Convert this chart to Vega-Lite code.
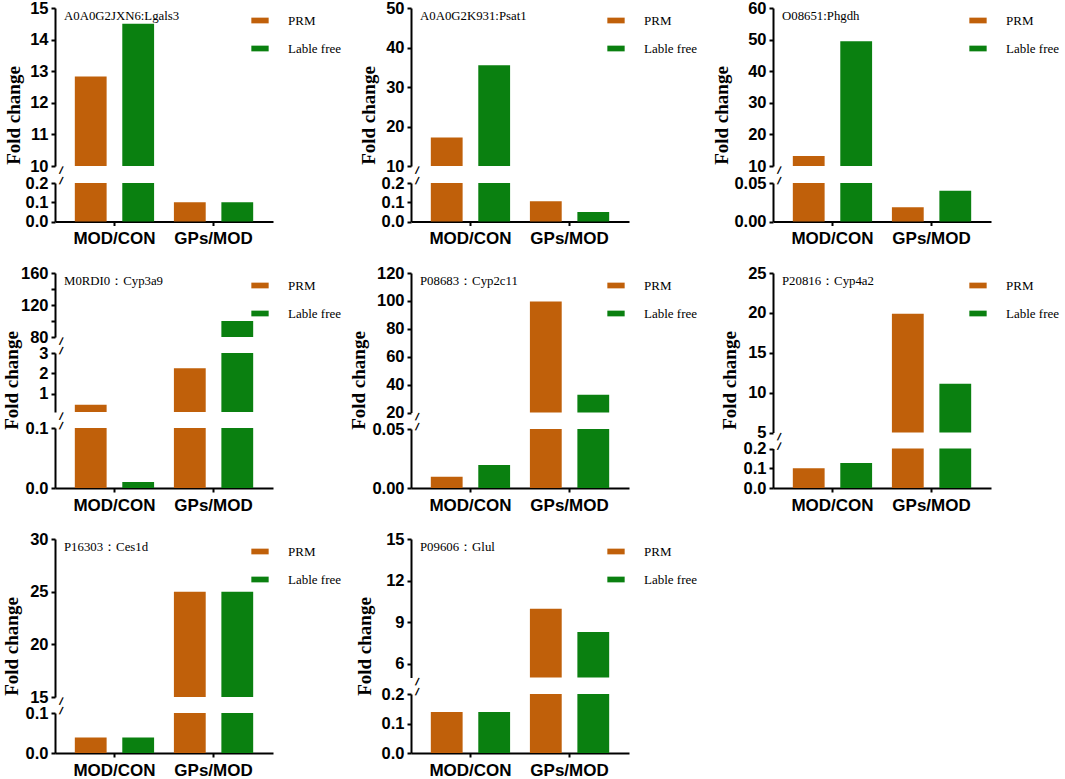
{
  "$schema": "https://vega.github.io/schema/vega-lite/v6.json",
  "padding": {"left": 2, "top": 0, "right": 0, "bottom": 0},
  "background": "white",
  "data": {
    "values": [
      {"panel": "P1", "group": "MOD/CON", "method": "PRM", "value": 12.83},
      {"panel": "P1", "group": "MOD/CON", "method": "Lable free", "value": 14.5},
      {"panel": "P1", "group": "GPs/MOD", "method": "PRM", "value": 0.1},
      {"panel": "P1", "group": "GPs/MOD", "method": "Lable free", "value": 0.1},
      {"panel": "P2", "group": "MOD/CON", "method": "PRM", "value": 17.2},
      {"panel": "P2", "group": "MOD/CON", "method": "Lable free", "value": 35.5},
      {"panel": "P2", "group": "GPs/MOD", "method": "PRM", "value": 0.105},
      {"panel": "P2", "group": "GPs/MOD", "method": "Lable free", "value": 0.05},
      {"panel": "P3", "group": "MOD/CON", "method": "PRM", "value": 13.2},
      {"panel": "P3", "group": "MOD/CON", "method": "Lable free", "value": 49.5},
      {"panel": "P3", "group": "GPs/MOD", "method": "PRM", "value": 0.0185},
      {"panel": "P3", "group": "GPs/MOD", "method": "Lable free", "value": 0.04},
      {"panel": "P4", "group": "MOD/CON", "method": "PRM", "value": 0.46},
      {"panel": "P4", "group": "MOD/CON", "method": "Lable free", "value": 0.01},
      {"panel": "P4", "group": "GPs/MOD", "method": "PRM", "value": 2.25},
      {"panel": "P4", "group": "GPs/MOD", "method": "Lable free", "value": 100},
      {"panel": "P5", "group": "MOD/CON", "method": "PRM", "value": 0.0095},
      {"panel": "P5", "group": "MOD/CON", "method": "Lable free", "value": 0.0195},
      {"panel": "P5", "group": "GPs/MOD", "method": "PRM", "value": 99.5},
      {"panel": "P5", "group": "GPs/MOD", "method": "Lable free", "value": 32.7},
      {"panel": "P6", "group": "MOD/CON", "method": "PRM", "value": 0.1},
      {"panel": "P6", "group": "MOD/CON", "method": "Lable free", "value": 0.126},
      {"panel": "P6", "group": "GPs/MOD", "method": "PRM", "value": 19.9},
      {"panel": "P6", "group": "GPs/MOD", "method": "Lable free", "value": 11.1},
      {"panel": "P7", "group": "MOD/CON", "method": "PRM", "value": 0.039},
      {"panel": "P7", "group": "MOD/CON", "method": "Lable free", "value": 0.039},
      {"panel": "P7", "group": "GPs/MOD", "method": "PRM", "value": 25},
      {"panel": "P7", "group": "GPs/MOD", "method": "Lable free", "value": 25},
      {"panel": "P8", "group": "MOD/CON", "method": "PRM", "value": 0.139},
      {"panel": "P8", "group": "MOD/CON", "method": "Lable free", "value": 0.139},
      {"panel": "P8", "group": "GPs/MOD", "method": "PRM", "value": 9.96},
      {"panel": "P8", "group": "GPs/MOD", "method": "Lable free", "value": 8.28}
    ]
  },
  "columns": 3,
  "spacing": {"row": 51, "column": 0},
  "bounds": "flush",
  "resolve": {"legend": {"color": "independent"}},
  "concat": [
    {
      "width": 355.5, "height": 213.5,
      "title": {"text": "A0A0G2JXN6:Lgals3"},
      "transform": [{"filter": "datum.panel == 'P1'"}],
      "resolve": {"scale": {"y": "independent"}, "axis": {"y": "independent"}},
      "layer": [
        {"mark": "bar", "encoding": {
          "x": {"field": "group", "type": "nominal", "scale": {"domain": ["MOD/CON", "GPs/MOD"], "range": [0, 218]}, "axis": {"title": null}},
          "xOffset": {"field": "method", "scale": {"domain": ["PRM", "Lable free"]}},
          "color": {"field": "method", "title": null, "scale": {"domain": ["PRM", "Lable free"]}},
          "y": {"field": "value", "type": "quantitative", "scale": {"domain": [10, 15], "range": [158, 0], "clamp": true, "nice": false, "zero": false}, "axis": {"orient": "left", "values": [10, 11, 12, 13, 14, 15], "title": "Fold change", "titleX": -32, "titleY": 107}},
          "y2": {"datum": 0}}},
        {"mark": "bar", "encoding": {
          "x": {"field": "group", "type": "nominal", "scale": {"domain": ["MOD/CON", "GPs/MOD"], "range": [0, 218]}, "axis": {"title": null}},
          "xOffset": {"field": "method", "scale": {"domain": ["PRM", "Lable free"]}},
          "color": {"field": "method", "title": null, "scale": {"domain": ["PRM", "Lable free"]}},
          "y": {"field": "value", "type": "quantitative", "scale": {"domain": [0, 0.2], "range": [213.5, 175], "clamp": true, "nice": false}, "axis": {"orient": "left", "values": [0, 0.1, 0.2], "format": ".1f", "title": null}},
          "y2": {"datum": 0}}},
        {"transform": [{"aggregate": [{"op": "count", "as": "n"}]}], "mark": {"type": "text", "dx": -50.4, "dy": 18.7}, "encoding": {
          "x": {"datum": "MOD/CON", "type": "nominal", "scale": {"domain": ["MOD/CON", "GPs/MOD"], "range": [0, 218]}, "axis": {"title": null}},
          "y": {"datum": 10, "type": "quantitative", "scale": {"domain": [10, 15], "range": [158, 0], "nice": false, "zero": false}, "axis": null}}},
        {"transform": [{"aggregate": [{"op": "count", "as": "n"}]}], "mark": {"type": "text", "dx": -52.1, "dy": 12.4}, "encoding": {
          "x": {"datum": "MOD/CON", "type": "nominal", "scale": {"domain": ["MOD/CON", "GPs/MOD"], "range": [0, 218]}, "axis": {"title": null}},
          "y": {"datum": 0.2, "type": "quantitative", "scale": {"domain": [0, 0.2], "range": [213.5, 175], "nice": false}, "axis": null}}}
      ]
    },
    {
      "width": 361.5, "height": 213.5,
      "title": {"text": "A0A0G2K931:Psat1"},
      "transform": [{"filter": "datum.panel == 'P2'"}],
      "resolve": {"scale": {"y": "independent"}, "axis": {"y": "independent"}},
      "layer": [
        {"mark": "bar", "encoding": {
          "x": {"field": "group", "type": "nominal", "scale": {"domain": ["MOD/CON", "GPs/MOD"], "range": [0, 218]}, "axis": {"title": null}},
          "xOffset": {"field": "method", "scale": {"domain": ["PRM", "Lable free"]}},
          "color": {"field": "method", "title": null, "scale": {"domain": ["PRM", "Lable free"]}},
          "y": {"field": "value", "type": "quantitative", "scale": {"domain": [10, 50], "range": [158, 0], "clamp": true, "nice": false, "zero": false}, "axis": {"orient": "left", "values": [10, 20, 30, 40, 50], "title": "Fold change", "titleX": -33, "titleY": 107}},
          "y2": {"datum": 0}}},
        {"mark": "bar", "encoding": {
          "x": {"field": "group", "type": "nominal", "scale": {"domain": ["MOD/CON", "GPs/MOD"], "range": [0, 218]}, "axis": {"title": null}},
          "xOffset": {"field": "method", "scale": {"domain": ["PRM", "Lable free"]}},
          "color": {"field": "method", "title": null, "scale": {"domain": ["PRM", "Lable free"]}},
          "y": {"field": "value", "type": "quantitative", "scale": {"domain": [0, 0.2], "range": [213.5, 175], "clamp": true, "nice": false}, "axis": {"orient": "left", "values": [0, 0.1, 0.2], "format": ".1f", "title": null}},
          "y2": {"datum": 0}}},
        {"transform": [{"aggregate": [{"op": "count", "as": "n"}]}], "mark": {"type": "text", "dx": -50.4, "dy": 18.7}, "encoding": {
          "x": {"datum": "MOD/CON", "type": "nominal", "scale": {"domain": ["MOD/CON", "GPs/MOD"], "range": [0, 218]}, "axis": {"title": null}},
          "y": {"datum": 10, "type": "quantitative", "scale": {"domain": [10, 50], "range": [158, 0], "nice": false, "zero": false}, "axis": null}}},
        {"transform": [{"aggregate": [{"op": "count", "as": "n"}]}], "mark": {"type": "text", "dx": -52.1, "dy": 12.4}, "encoding": {
          "x": {"datum": "MOD/CON", "type": "nominal", "scale": {"domain": ["MOD/CON", "GPs/MOD"], "range": [0, 218]}, "axis": {"title": null}},
          "y": {"datum": 0.2, "type": "quantitative", "scale": {"domain": [0, 0.2], "range": [213.5, 175], "nice": false}, "axis": null}}}
      ]
    },
    {
      "width": 218, "height": 213.5,
      "title": {"text": "O08651:Phgdh"},
      "transform": [{"filter": "datum.panel == 'P3'"}],
      "resolve": {"scale": {"y": "independent"}, "axis": {"y": "independent"}},
      "layer": [
        {"mark": "bar", "encoding": {
          "x": {"field": "group", "type": "nominal", "scale": {"domain": ["MOD/CON", "GPs/MOD"], "range": [0, 218]}, "axis": {"title": null}},
          "xOffset": {"field": "method", "scale": {"domain": ["PRM", "Lable free"]}},
          "color": {"field": "method", "title": null, "scale": {"domain": ["PRM", "Lable free"]}},
          "y": {"field": "value", "type": "quantitative", "scale": {"domain": [10, 60], "range": [158, 0], "clamp": true, "nice": false, "zero": false}, "axis": {"orient": "left", "values": [10, 20, 30, 40, 50, 60], "title": "Fold change", "titleX": -42, "titleY": 107}},
          "y2": {"datum": 0}}},
        {"mark": "bar", "encoding": {
          "x": {"field": "group", "type": "nominal", "scale": {"domain": ["MOD/CON", "GPs/MOD"], "range": [0, 218]}, "axis": {"title": null}},
          "xOffset": {"field": "method", "scale": {"domain": ["PRM", "Lable free"]}},
          "color": {"field": "method", "title": null, "scale": {"domain": ["PRM", "Lable free"]}},
          "y": {"field": "value", "type": "quantitative", "scale": {"domain": [0, 0.05], "range": [213.5, 175], "clamp": true, "nice": false}, "axis": {"orient": "left", "values": [0, 0.05], "format": ".2f", "title": null}},
          "y2": {"datum": 0}}},
        {"transform": [{"aggregate": [{"op": "count", "as": "n"}]}], "mark": {"type": "text", "dx": -50.4, "dy": 18.7}, "encoding": {
          "x": {"datum": "MOD/CON", "type": "nominal", "scale": {"domain": ["MOD/CON", "GPs/MOD"], "range": [0, 218]}, "axis": {"title": null}},
          "y": {"datum": 10, "type": "quantitative", "scale": {"domain": [10, 60], "range": [158, 0], "nice": false, "zero": false}, "axis": null}}},
        {"transform": [{"aggregate": [{"op": "count", "as": "n"}]}], "mark": {"type": "text", "dx": -52.1, "dy": 12.4}, "encoding": {
          "x": {"datum": "MOD/CON", "type": "nominal", "scale": {"domain": ["MOD/CON", "GPs/MOD"], "range": [0, 218]}, "axis": {"title": null}},
          "y": {"datum": 0.05, "type": "quantitative", "scale": {"domain": [0, 0.05], "range": [213.5, 175], "nice": false}, "axis": null}}}
      ]
    },
    {
      "width": 355.5, "height": 215,
      "title": {"text": "M0RDI0：Cyp3a9"},
      "transform": [{"filter": "datum.panel == 'P4'"}],
      "resolve": {"scale": {"y": "independent"}, "axis": {"y": "independent"}},
      "layer": [
        {"mark": "bar", "encoding": {
          "x": {"field": "group", "type": "nominal", "scale": {"domain": ["MOD/CON", "GPs/MOD"], "range": [0, 218]}, "axis": {"title": null}},
          "xOffset": {"field": "method", "scale": {"domain": ["PRM", "Lable free"]}},
          "color": {"field": "method", "title": null, "scale": {"domain": ["PRM", "Lable free"]}},
          "y": {"field": "value", "type": "quantitative", "scale": {"domain": [80, 160], "range": [64, 0], "clamp": true, "nice": false, "zero": false}, "axis": {"orient": "left", "values": [80, 100, 120, 140, 160], "title": "Fold change", "titleX": -34, "titleY": 107}},
          "y2": {"datum": 0}}},
        {"mark": "bar", "encoding": {
          "x": {"field": "group", "type": "nominal", "scale": {"domain": ["MOD/CON", "GPs/MOD"], "range": [0, 218]}, "axis": {"title": null}},
          "xOffset": {"field": "method", "scale": {"domain": ["PRM", "Lable free"]}},
          "color": {"field": "method", "title": null, "scale": {"domain": ["PRM", "Lable free"]}},
          "y": {"field": "value", "type": "quantitative", "scale": {"domain": [0.1, 3], "range": [139, 80], "clamp": true, "nice": false, "zero": false}, "axis": {"orient": "left", "values": [1, 2, 3], "title": null}},
          "y2": {"datum": 0}}},
        {"mark": "bar", "encoding": {
          "x": {"field": "group", "type": "nominal", "scale": {"domain": ["MOD/CON", "GPs/MOD"], "range": [0, 218]}, "axis": {"title": null}},
          "xOffset": {"field": "method", "scale": {"domain": ["PRM", "Lable free"]}},
          "color": {"field": "method", "title": null, "scale": {"domain": ["PRM", "Lable free"]}},
          "y": {"field": "value", "type": "quantitative", "scale": {"domain": [0, 0.1], "range": [215, 155], "clamp": true, "nice": false}, "axis": {"orient": "left", "values": [0, 0.1], "format": ".1f", "title": null}},
          "y2": {"datum": 0}}},
        {"transform": [{"aggregate": [{"op": "count", "as": "n"}]}], "mark": {"type": "text", "dx": -50.4, "dy": 18.7}, "encoding": {
          "x": {"datum": "MOD/CON", "type": "nominal", "scale": {"domain": ["MOD/CON", "GPs/MOD"], "range": [0, 218]}, "axis": {"title": null}},
          "y": {"datum": 80, "type": "quantitative", "scale": {"domain": [80, 160], "range": [64, 0], "nice": false, "zero": false}, "axis": null}}},
        {"transform": [{"aggregate": [{"op": "count", "as": "n"}]}], "mark": {"type": "text", "dx": -52.1, "dy": 12.4}, "encoding": {
          "x": {"datum": "MOD/CON", "type": "nominal", "scale": {"domain": ["MOD/CON", "GPs/MOD"], "range": [0, 218]}, "axis": {"title": null}},
          "y": {"datum": 3, "type": "quantitative", "scale": {"domain": [0.1, 3], "range": [139, 80], "nice": false, "zero": false}, "axis": null}}},
        {"transform": [{"aggregate": [{"op": "count", "as": "n"}]}], "mark": {"type": "text", "dx": -50.4, "dy": 18.7}, "encoding": {
          "x": {"datum": "MOD/CON", "type": "nominal", "scale": {"domain": ["MOD/CON", "GPs/MOD"], "range": [0, 218]}, "axis": {"title": null}},
          "y": {"datum": 0.1, "type": "quantitative", "scale": {"domain": [0.1, 3], "range": [139, 80], "nice": false, "zero": false}, "axis": null}}},
        {"transform": [{"aggregate": [{"op": "count", "as": "n"}]}], "mark": {"type": "text", "dx": -52.1, "dy": 12.4}, "encoding": {
          "x": {"datum": "MOD/CON", "type": "nominal", "scale": {"domain": ["MOD/CON", "GPs/MOD"], "range": [0, 218]}, "axis": {"title": null}},
          "y": {"datum": 0.1, "type": "quantitative", "scale": {"domain": [0, 0.1], "range": [215, 155], "nice": false}, "axis": null}}}
      ]
    },
    {
      "width": 361.5, "height": 215,
      "title": {"text": "P08683：Cyp2c11"},
      "transform": [{"filter": "datum.panel == 'P5'"}],
      "resolve": {"scale": {"y": "independent"}, "axis": {"y": "independent"}},
      "layer": [
        {"mark": "bar", "encoding": {
          "x": {"field": "group", "type": "nominal", "scale": {"domain": ["MOD/CON", "GPs/MOD"], "range": [0, 218]}, "axis": {"title": null}},
          "xOffset": {"field": "method", "scale": {"domain": ["PRM", "Lable free"]}},
          "color": {"field": "method", "title": null, "scale": {"domain": ["PRM", "Lable free"]}},
          "y": {"field": "value", "type": "quantitative", "scale": {"domain": [20, 120], "range": [139.5, 0], "clamp": true, "nice": false, "zero": false}, "axis": {"orient": "left", "values": [20, 40, 60, 80, 100, 120], "title": "Fold change", "titleX": -43, "titleY": 107}},
          "y2": {"datum": 0}}},
        {"mark": "bar", "encoding": {
          "x": {"field": "group", "type": "nominal", "scale": {"domain": ["MOD/CON", "GPs/MOD"], "range": [0, 218]}, "axis": {"title": null}},
          "xOffset": {"field": "method", "scale": {"domain": ["PRM", "Lable free"]}},
          "color": {"field": "method", "title": null, "scale": {"domain": ["PRM", "Lable free"]}},
          "y": {"field": "value", "type": "quantitative", "scale": {"domain": [0, 0.05], "range": [215, 156], "clamp": true, "nice": false}, "axis": {"orient": "left", "values": [0, 0.05], "format": ".2f", "title": null}},
          "y2": {"datum": 0}}},
        {"transform": [{"aggregate": [{"op": "count", "as": "n"}]}], "mark": {"type": "text", "dx": -50.4, "dy": 18.7}, "encoding": {
          "x": {"datum": "MOD/CON", "type": "nominal", "scale": {"domain": ["MOD/CON", "GPs/MOD"], "range": [0, 218]}, "axis": {"title": null}},
          "y": {"datum": 20, "type": "quantitative", "scale": {"domain": [20, 120], "range": [139.5, 0], "nice": false, "zero": false}, "axis": null}}},
        {"transform": [{"aggregate": [{"op": "count", "as": "n"}]}], "mark": {"type": "text", "dx": -52.1, "dy": 12.4}, "encoding": {
          "x": {"datum": "MOD/CON", "type": "nominal", "scale": {"domain": ["MOD/CON", "GPs/MOD"], "range": [0, 218]}, "axis": {"title": null}},
          "y": {"datum": 0.05, "type": "quantitative", "scale": {"domain": [0, 0.05], "range": [215, 156], "nice": false}, "axis": null}}}
      ]
    },
    {
      "width": 218, "height": 215,
      "title": {"text": "P20816：Cyp4a2"},
      "transform": [{"filter": "datum.panel == 'P6'"}],
      "resolve": {"scale": {"y": "independent"}, "axis": {"y": "independent"}},
      "layer": [
        {"mark": "bar", "encoding": {
          "x": {"field": "group", "type": "nominal", "scale": {"domain": ["MOD/CON", "GPs/MOD"], "range": [0, 218]}, "axis": {"title": null}},
          "xOffset": {"field": "method", "scale": {"domain": ["PRM", "Lable free"]}},
          "color": {"field": "method", "title": null, "scale": {"domain": ["PRM", "Lable free"]}},
          "y": {"field": "value", "type": "quantitative", "scale": {"domain": [5, 25], "range": [159.5, 0], "clamp": true, "nice": false, "zero": false}, "axis": {"orient": "left", "values": [5, 10, 15, 20, 25], "title": "Fold change", "titleX": -34, "titleY": 107}},
          "y2": {"datum": 0}}},
        {"mark": "bar", "encoding": {
          "x": {"field": "group", "type": "nominal", "scale": {"domain": ["MOD/CON", "GPs/MOD"], "range": [0, 218]}, "axis": {"title": null}},
          "xOffset": {"field": "method", "scale": {"domain": ["PRM", "Lable free"]}},
          "color": {"field": "method", "title": null, "scale": {"domain": ["PRM", "Lable free"]}},
          "y": {"field": "value", "type": "quantitative", "scale": {"domain": [0, 0.2], "range": [215, 175.5], "clamp": true, "nice": false}, "axis": {"orient": "left", "values": [0, 0.1, 0.2], "format": ".1f", "title": null}},
          "y2": {"datum": 0}}},
        {"transform": [{"aggregate": [{"op": "count", "as": "n"}]}], "mark": {"type": "text", "dx": -50.4, "dy": 18.7}, "encoding": {
          "x": {"datum": "MOD/CON", "type": "nominal", "scale": {"domain": ["MOD/CON", "GPs/MOD"], "range": [0, 218]}, "axis": {"title": null}},
          "y": {"datum": 5, "type": "quantitative", "scale": {"domain": [5, 25], "range": [159.5, 0], "nice": false, "zero": false}, "axis": null}}},
        {"transform": [{"aggregate": [{"op": "count", "as": "n"}]}], "mark": {"type": "text", "dx": -52.1, "dy": 12.4}, "encoding": {
          "x": {"datum": "MOD/CON", "type": "nominal", "scale": {"domain": ["MOD/CON", "GPs/MOD"], "range": [0, 218]}, "axis": {"title": null}},
          "y": {"datum": 0.2, "type": "quantitative", "scale": {"domain": [0, 0.2], "range": [215, 175.5], "nice": false}, "axis": null}}}
      ]
    },
    {
      "width": 355.5, "height": 214,
      "title": {"text": "P16303：Ces1d"},
      "transform": [{"filter": "datum.panel == 'P7'"}],
      "resolve": {"scale": {"y": "independent"}, "axis": {"y": "independent"}},
      "layer": [
        {"mark": "bar", "encoding": {
          "x": {"field": "group", "type": "nominal", "scale": {"domain": ["MOD/CON", "GPs/MOD"], "range": [0, 218]}, "axis": {"title": null}},
          "xOffset": {"field": "method", "scale": {"domain": ["PRM", "Lable free"]}},
          "color": {"field": "method", "title": null, "scale": {"domain": ["PRM", "Lable free"]}},
          "y": {"field": "value", "type": "quantitative", "scale": {"domain": [15, 30], "range": [158, 0], "clamp": true, "nice": false, "zero": false}, "axis": {"orient": "left", "values": [15, 20, 25, 30], "title": "Fold change", "titleX": -34, "titleY": 107}},
          "y2": {"datum": 0}}},
        {"mark": "bar", "encoding": {
          "x": {"field": "group", "type": "nominal", "scale": {"domain": ["MOD/CON", "GPs/MOD"], "range": [0, 218]}, "axis": {"title": null}},
          "xOffset": {"field": "method", "scale": {"domain": ["PRM", "Lable free"]}},
          "color": {"field": "method", "title": null, "scale": {"domain": ["PRM", "Lable free"]}},
          "y": {"field": "value", "type": "quantitative", "scale": {"domain": [0, 0.1], "range": [214, 174], "clamp": true, "nice": false}, "axis": {"orient": "left", "values": [0, 0.1], "format": ".1f", "title": null}},
          "y2": {"datum": 0}}},
        {"transform": [{"aggregate": [{"op": "count", "as": "n"}]}], "mark": {"type": "text", "dx": -50.4, "dy": 18.7}, "encoding": {
          "x": {"datum": "MOD/CON", "type": "nominal", "scale": {"domain": ["MOD/CON", "GPs/MOD"], "range": [0, 218]}, "axis": {"title": null}},
          "y": {"datum": 15, "type": "quantitative", "scale": {"domain": [15, 30], "range": [158, 0], "nice": false, "zero": false}, "axis": null}}},
        {"transform": [{"aggregate": [{"op": "count", "as": "n"}]}], "mark": {"type": "text", "dx": -52.1, "dy": 12.4}, "encoding": {
          "x": {"datum": "MOD/CON", "type": "nominal", "scale": {"domain": ["MOD/CON", "GPs/MOD"], "range": [0, 218]}, "axis": {"title": null}},
          "y": {"datum": 0.1, "type": "quantitative", "scale": {"domain": [0, 0.1], "range": [214, 174], "nice": false}, "axis": null}}}
      ]
    },
    {
      "width": 361.5, "height": 214,
      "title": {"text": "P09606：Glul"},
      "transform": [{"filter": "datum.panel == 'P8'"}],
      "resolve": {"scale": {"y": "independent"}, "axis": {"y": "independent"}},
      "layer": [
        {"mark": "bar", "encoding": {
          "x": {"field": "group", "type": "nominal", "scale": {"domain": ["MOD/CON", "GPs/MOD"], "range": [0, 218]}, "axis": {"title": null}},
          "xOffset": {"field": "method", "scale": {"domain": ["PRM", "Lable free"]}},
          "color": {"field": "method", "title": null, "scale": {"domain": ["PRM", "Lable free"]}},
          "y": {"field": "value", "type": "quantitative", "scale": {"domain": [5, 15], "range": [138.5, 0], "clamp": true, "nice": false, "zero": false}, "axis": {"orient": "left", "values": [6, 9, 12, 15], "title": "Fold change", "titleX": -37, "titleY": 107}},
          "y2": {"datum": 0}}},
        {"mark": "bar", "encoding": {
          "x": {"field": "group", "type": "nominal", "scale": {"domain": ["MOD/CON", "GPs/MOD"], "range": [0, 218]}, "axis": {"title": null}},
          "xOffset": {"field": "method", "scale": {"domain": ["PRM", "Lable free"]}},
          "color": {"field": "method", "title": null, "scale": {"domain": ["PRM", "Lable free"]}},
          "y": {"field": "value", "type": "quantitative", "scale": {"domain": [0, 0.2], "range": [214, 155], "clamp": true, "nice": false}, "axis": {"orient": "left", "values": [0, 0.1, 0.2], "format": ".1f", "title": null}},
          "y2": {"datum": 0}}},
        {"transform": [{"aggregate": [{"op": "count", "as": "n"}]}], "mark": {"type": "text", "dx": -50.4, "dy": 18.7}, "encoding": {
          "x": {"datum": "MOD/CON", "type": "nominal", "scale": {"domain": ["MOD/CON", "GPs/MOD"], "range": [0, 218]}, "axis": {"title": null}},
          "y": {"datum": 5, "type": "quantitative", "scale": {"domain": [5, 15], "range": [138.5, 0], "nice": false, "zero": false}, "axis": null}}},
        {"transform": [{"aggregate": [{"op": "count", "as": "n"}]}], "mark": {"type": "text", "dx": -52.1, "dy": 12.4}, "encoding": {
          "x": {"datum": "MOD/CON", "type": "nominal", "scale": {"domain": ["MOD/CON", "GPs/MOD"], "range": [0, 218]}, "axis": {"title": null}},
          "y": {"datum": 0.2, "type": "quantitative", "scale": {"domain": [0, 0.2], "range": [214, 155], "nice": false}, "axis": null}}}
      ]
    }
  ],
  "config": {
    "view": {"stroke": null},
    "font": "Liberation Sans",
    "text": {"text": "/", "angle": 15, "fontSize": 11, "fontWeight": "bold", "color": "#000000", "align": "center", "baseline": "middle"},
    "axis": {
      "grid": false,
      "domainColor": "#000000",
      "domainWidth": 2,
      "tickColor": "#000000",
      "tickWidth": 2,
      "tickSize": 4,
      "labelFont": "Liberation Sans",
      "labelFontWeight": "bold",
      "labelFontSize": 16.5,
      "labelColor": "#000000",
      "titleFont": "Liberation Serif",
      "titleFontSize": 19,
      "titleFontWeight": "bold",
      "titleColor": "#000000"
    },
    "axisX": {"labelFontSize": 17, "labelPadding": 5, "labelAngle": 0},
    "axisY": {"labelPadding": 3},
    "scale": {
      "bandPaddingInner": 0.374,
      "bandPaddingOuter": 0.135,
      "offsetBandPaddingInner": 0.33,
      "offsetBandPaddingOuter": 0
    },
    "range": {"category": ["#C0600A", "#0A8010"]},
    "legend": {
      "orient": "none",
      "legendX": 196,
      "legendY": 3.5,
      "padding": 0,
      "symbolType": "M-1,-0.33H1V0.33H-1Z",
      "symbolSize": 300,
      "symbolStrokeWidth": 0,
      "symbolOpacity": 1,
      "labelFont": "Liberation Serif",
      "labelFontSize": 13,
      "labelColor": "#000000",
      "labelOffset": 19,
      "rowPadding": 12
    },
    "title": {
      "anchor": "start",
      "frame": "group",
      "font": "Liberation Serif",
      "fontSize": 12.8,
      "fontWeight": "normal",
      "color": "#000000",
      "baseline": "middle",
      "offset": -23,
      "dx": 9
    }
  }
}
